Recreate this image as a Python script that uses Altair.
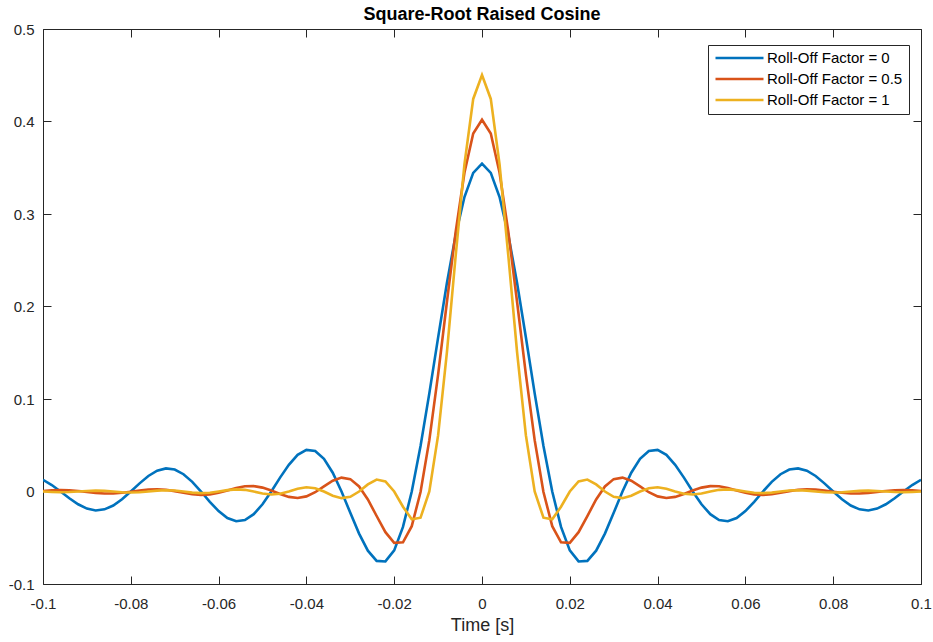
import altair as alt
import pandas as pd

time_s = [
    -0.100, -0.098, -0.096, -0.094, -0.092, -0.090, -0.088, -0.086, -0.084, -0.082,
    -0.080, -0.078, -0.076, -0.074, -0.072, -0.070, -0.068, -0.066, -0.064, -0.062,
    -0.060, -0.058, -0.056, -0.054, -0.052, -0.050, -0.048, -0.046, -0.044, -0.042,
    -0.040, -0.038, -0.036, -0.034, -0.032, -0.030, -0.028, -0.026, -0.024, -0.022,
    -0.020, -0.018, -0.016, -0.014, -0.012, -0.010, -0.008, -0.006, -0.004, -0.002,
    0.000,
    0.002, 0.004, 0.006, 0.008, 0.010, 0.012, 0.014, 0.016, 0.018, 0.020,
    0.022, 0.024, 0.026, 0.028, 0.030, 0.032, 0.034, 0.036, 0.038, 0.040,
    0.042, 0.044, 0.046, 0.048, 0.050, 0.052, 0.054, 0.056, 0.058, 0.060,
    0.062, 0.064, 0.066, 0.068, 0.070, 0.072, 0.074, 0.076, 0.078, 0.080,
    0.082, 0.084, 0.086, 0.088, 0.090, 0.092, 0.094, 0.096, 0.098, 0.100,
]

rolloff_0 = [
    0.0127, 0.0070, 0.0000, -0.0073, -0.0138, -0.0185, -0.0205, -0.0193, -0.0152, -0.0084,
    0.0000, 0.0088, 0.0168, 0.0225, 0.0250, 0.0238, 0.0187, 0.0104, 0.0000, -0.0111,
    -0.0212, -0.0287, -0.0322, -0.0308, -0.0245, -0.0138, 0.0000, 0.0150, 0.0289, 0.0396,
    0.0450, 0.0438, 0.0354, 0.0203, 0.0000, -0.0230, -0.0455, -0.0640, -0.0750, -0.0756,
    -0.0637, -0.0383, 0.0000, 0.0492, 0.1061, 0.1664, 0.2251, 0.2773, 0.3183, 0.3445,
    0.3545,
    0.3445, 0.3183, 0.2773, 0.2251, 0.1664, 0.1061, 0.0492, 0.0000, -0.0383, -0.0637,
    -0.0756, -0.0750, -0.0640, -0.0455, -0.0230, 0.0000, 0.0203, 0.0354, 0.0438, 0.0450,
    0.0396, 0.0289, 0.0150, 0.0000, -0.0138, -0.0245, -0.0308, -0.0322, -0.0287, -0.0212,
    -0.0111, 0.0000, 0.0104, 0.0187, 0.0238, 0.0250, 0.0225, 0.0168, 0.0088, 0.0000,
    -0.0084, -0.0152, -0.0193, -0.0205, -0.0185, -0.0138, -0.0073, 0.0000, 0.0070, 0.0127,
]

rolloff_05 = [
    0.0006, 0.0013, 0.0016, 0.0013, 0.0006, -0.0004, -0.0015, -0.0021, -0.0021, -0.0014,
    -0.0002, 0.0011, 0.0021, 0.0024, 0.0018, 0.0004, -0.0014, -0.0029, -0.0036, -0.0031,
    -0.0014, 0.0012, 0.0038, 0.0056, 0.0058, 0.0042, 0.0011, -0.0027, -0.0058, -0.0070,
    -0.0053, -0.0008, 0.0055, 0.0116, 0.0150, 0.0134, 0.0055, -0.0086, -0.0265, -0.0440,
    -0.0555, -0.0549, -0.0375, -0.0005, 0.0555, 0.1263, 0.2046, 0.2807, 0.3445, 0.3870,
    0.4019,
    0.3870, 0.3445, 0.2807, 0.2046, 0.1263, 0.0555, -0.0005, -0.0375, -0.0549, -0.0555,
    -0.0440, -0.0265, -0.0086, 0.0055, 0.0134, 0.0150, 0.0116, 0.0055, -0.0008, -0.0053,
    -0.0070, -0.0058, -0.0027, 0.0011, 0.0042, 0.0058, 0.0056, 0.0038, 0.0012, -0.0014,
    -0.0031, -0.0036, -0.0029, -0.0014, 0.0004, 0.0018, 0.0024, 0.0021, 0.0011, -0.0002,
    -0.0014, -0.0021, -0.0021, -0.0015, -0.0004, 0.0006, 0.0013, 0.0016, 0.0013, 0.0006,
]

rolloff_1 = [
    0.0000, -0.0005, -0.0008, -0.0006, 0.0000, 0.0006, 0.0009, 0.0007, 0.0000, -0.0008,
    -0.0011, -0.0008, 0.0000, 0.0009, 0.0014, 0.0010, 0.0000, -0.0012, -0.0018, -0.0013,
    0.0000, 0.0015, 0.0023, 0.0018, 0.0000, -0.0021, -0.0032, -0.0024, 0.0000, 0.0029,
    0.0046, 0.0036, 0.0000, -0.0045, -0.0072, -0.0058, 0.0000, 0.0077, 0.0129, 0.0109,
    0.0000, -0.0165, -0.0300, -0.0283, 0.0000, 0.0606, 0.1501, 0.2547, 0.3536, 0.4244,
    0.4502,
    0.4244, 0.3536, 0.2547, 0.1501, 0.0606, 0.0000, -0.0283, -0.0300, -0.0165, 0.0000,
    0.0109, 0.0129, 0.0077, 0.0000, -0.0058, -0.0072, -0.0045, 0.0000, 0.0036, 0.0046,
    0.0029, 0.0000, -0.0024, -0.0032, -0.0021, 0.0000, 0.0018, 0.0023, 0.0015, 0.0000,
    -0.0013, -0.0018, -0.0012, 0.0000, 0.0010, 0.0014, 0.0009, 0.0000, -0.0008, -0.0011,
    -0.0008, 0.0000, 0.0007, 0.0009, 0.0006, 0.0000, -0.0006, -0.0008, -0.0005, 0.0000,
]

series_names = ["Roll-Off Factor = 0", "Roll-Off Factor = 0.5", "Roll-Off Factor = 1"]
series_colors = ["#0072BD", "#D95319", "#EDB120"]
x_ticks = [-0.1, -0.08, -0.06, -0.04, -0.02, 0, 0.02, 0.04, 0.06, 0.08, 0.1]
y_ticks = [-0.1, 0, 0.1, 0.2, 0.3, 0.4, 0.5]

rows = []
for order, (name, vals) in enumerate(zip(series_names, [rolloff_0, rolloff_05, rolloff_1])):
    for t, v in zip(time_s, vals):
        rows.append({"t": t, "h": v, "series": name, "order": order})
df = pd.DataFrame(rows)

FONT = "Liberation Sans"
AX = "#262626"
TICK = 8
label_expr = "'' + round(datum.value * 100) / 100"

x_scale = alt.Scale(domain=[-0.1, 0.1], nice=False, zero=False)
y_scale = alt.Scale(domain=[-0.1, 0.5], nice=False, zero=False)

main = alt.Chart(df).mark_line(strokeWidth=2.6, clip=True).encode(
    x=alt.X("t:Q", scale=x_scale, title="Time [s]",
            axis=alt.Axis(orient="bottom", values=x_ticks, labelExpr=label_expr,
                          domain=False, offset=-TICK, tickSize=TICK, labelPadding=12,
                          labelFlush=False, titlePadding=5, grid=False)),
    y=alt.Y("h:Q", scale=y_scale, title=None,
            axis=alt.Axis(orient="left", values=y_ticks, labelExpr=label_expr,
                          domain=False, offset=-TICK, tickSize=TICK, labelPadding=9,
                          labelFlush=False, grid=False)),
    color=alt.Color("series:N",
                    scale=alt.Scale(domain=series_names, range=series_colors),
                    legend=alt.Legend(title=None, orient="none", legendX=665, legendY=16,
                                      symbolType="stroke", symbolSize=2304,
                                      symbolStrokeWidth=2.6, clipHeight=14,
                                      labelFontSize=15, labelFont=FONT,
                                      labelColor="#000000", labelLimit=300,
                                      strokeColor=AX, fillColor="white",
                                      padding=6, rowPadding=6, labelOffset=2)),
    order=alt.Order("order:Q"),
)

frame = alt.Chart(df).mark_line(opacity=0).encode(
    x=alt.X("t:Q", scale=x_scale,
            axis=alt.Axis(orient="top", values=x_ticks, labels=False, title=None,
                          domain=False, offset=-TICK, tickSize=TICK, grid=False)),
    y=alt.Y("h:Q", scale=y_scale,
            axis=alt.Axis(orient="right", values=y_ticks, labels=False, title=None,
                          domain=False, offset=-TICK, tickSize=TICK, grid=False)),
    detail="series:N",
)

chart = alt.layer(main, frame).resolve_scale(x="shared", y="shared").resolve_axis(
    x="independent", y="independent"
).properties(
    width=878,
    height=555,
    title=alt.TitleParams("Square-Root Raised Cosine", font=FONT, fontSize=18,
                          fontWeight="bold", color="#000000", offset=-2, anchor="middle"),
    padding={"left": 43, "top": 29, "right": 12, "bottom": 58},
    autosize=alt.AutoSizeParams(type="none"),
    background="white",
).configure_view(
    stroke=AX, strokeWidth=1
).configure_axis(
    labelFont=FONT, labelFontSize=15, labelColor=AX, tickColor=AX, tickWidth=1,
    titleFont=FONT, titleFontSize=18, titleColor=AX, titleFontWeight="normal",
)

chart.save("out.html", embed_options={"renderer": "svg", "actions": False})
